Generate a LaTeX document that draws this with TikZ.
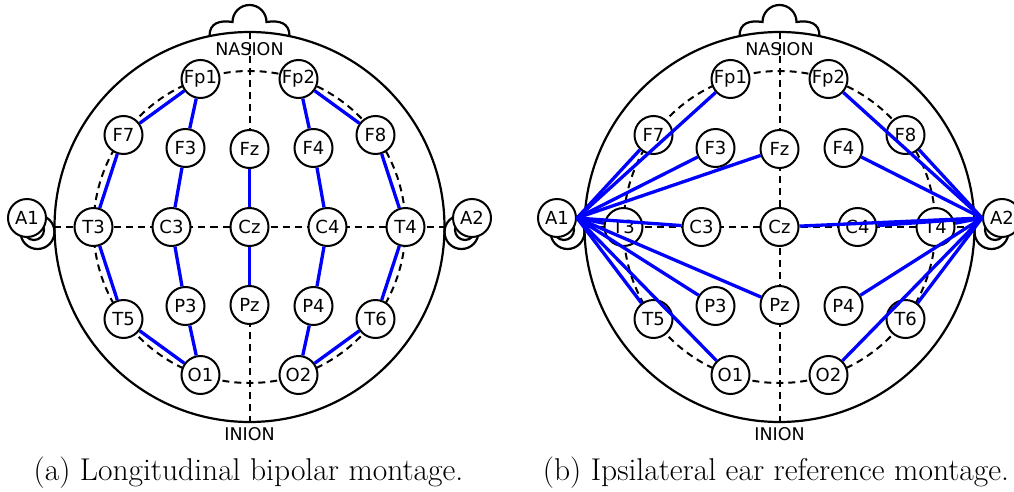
\documentclass[tikz,border=0pt]{standalone}
\usepackage{fontspec}
\newfontfamily\dejavu{DejaVu Sans}
\tikzset{
  electrode/.style={circle,draw,fill=white,line width=2pt,minimum size=38pt,inner sep=0pt,font=\dejavu\fontsize{18}{20}\selectfont},
  landmark/.style={anchor=base,inner sep=0pt,font=\dejavu\fontsize{17.5}{20}\selectfont},
  headline/.style={line width=2.2pt},
  guide/.style={line width=2pt,dash pattern=on 7pt off 5pt},
  montage/.style={blue,line width=3.3pt},
  caption/.style={anchor=base,inner sep=0pt,font=\fontsize{31.5}{36}\selectfont},
}
\begin{document}
\begin{tikzpicture}[x=1pt,y=1pt]
\useasboundingbox (-249.5,-264) rectangle (764.5,227);
\foreach \p/\dx in {a/0,b/530}{
  \begin{scope}[shift={(\dx,0)}]
    % head, nose, ears
    \draw[headline] (0,0) circle[radius=195];
    \draw[headline] (-40,191) .. controls (-40,204) and (-30,207) .. (-17,205)
      arc[start angle=180,end angle=0,radius=17]
      .. controls (30,207) and (40,204) .. (40,191);
    \foreach \s in {-1,1}{
      \draw[headline] (\s*212,-5) circle[radius=17];
      \draw[headline] (\s*215.5,-3) circle[radius=10];
    }
    % guide lines
    \draw[guide] (0,0) circle[radius=156];
    \draw[guide] (0,195) -- (0,-195);
    \draw[guide] (-195,0) -- (195,0);
    \node[landmark] (\p-nasion) at (0,172) {NASION};
    \node[landmark] (\p-inion) at (0,-213) {INION};
    % electrodes
    \foreach \n/\x/\y in {Fp1/-49/148,Fp2/49/148,F7/-126/92,F3/-64/79,Fz/0/78,F4/64/79,F8/126/92,
      T3/-156/0,C3/-78/0,Cz/0/0,C4/78/0,T4/156/0,T5/-126/-92,P3/-64/-79,Pz/0/-78,P4/64/-79,
      T6/126/-92,O1/-49/-148,O2/49/-148,A1/-222.5/9,A2/222.5/9}
      \node[electrode] (\p-\n) at (\x,\y) {\n};
  \end{scope}
}
% longitudinal bipolar
\foreach \u/\v in {Fp1/F7,F7/T3,T3/T5,T5/O1,Fp1/F3,F3/C3,C3/P3,P3/O1,Fz/Cz,Cz/Pz,
  Fp2/F4,F4/C4,C4/P4,P4/O2,Fp2/F8,F8/T4,T4/T6,T6/O2}
  \draw[montage] (a-\u) -- (a-\v);
% ipsilateral ear reference
\foreach \v in {Fp1,F7,F3,Fz,T3,C3,T5,P3,Pz,O1}
  \draw[montage] (b-A1.east) -- (b-\v);
\foreach \v in {Fp2,F8,F4,Cz,C4,T4,P4,T6,O2}
  \draw[montage] (b-A2.west) -- (b-\v);
\node[caption] (a-caption) at (-1,-253) {(a) Longitudinal bipolar montage.};
\node[caption] (b-caption) at (526.5,-253) {(b) Ipsilateral ear reference montage.};
\end{tikzpicture}
\end{document}
